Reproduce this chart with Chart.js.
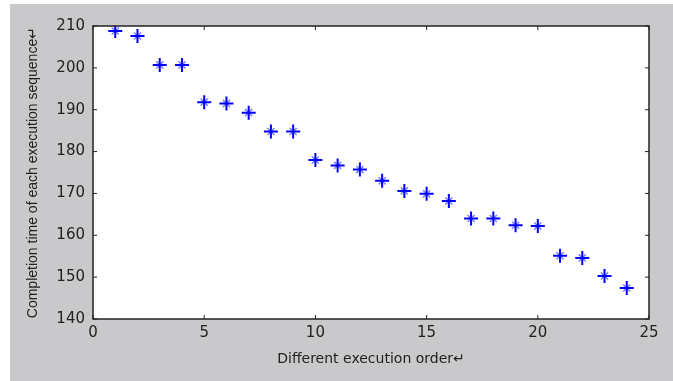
<!DOCTYPE html>
<html>
<head>
<meta charset="utf-8">
<script src="https://cdn.jsdelivr.net/npm/chart.js@4/dist/chart.umd.min.js"></script>
<style>
  html, body { margin: 0; padding: 0; background: #fff; }
  #wrap { width: 673px; height: 381px; }
</style>
</head>
<body>
<div id="wrap"><canvas id="myChart"></canvas></div>
<script>
// execution order on x, completion time on y
const order = [1, 2, 3, 4, 5, 6, 7, 8, 9, 10, 11, 12, 13, 14, 15, 16, 17, 18, 19, 20, 21, 22, 23, 24];
const completionTime = [208.8, 207.6, 200.7, 200.7, 191.8, 191.5, 189.3, 184.8, 184.8, 178.0, 176.7, 175.7,
  173.0, 170.6, 169.9, 168.2, 164.0, 164.0, 162.4, 162.2, 155.1, 154.6, 150.3, 147.4];
const xTicks = [0, 5, 10, 15, 20, 25];
const yTicks = [140, 150, 160, 170, 180, 190, 200, 210];

const points = order.map((x, i) => ({ x: x, y: completionTime[i] }));

// gray figure background + white axes box, matlab style
const frame = {
  id: "frame",
  beforeDraw(chart) {
    const c = chart.ctx;
    const a = chart.chartArea;
    c.save();
    c.fillStyle = "#c9c8cb";
    c.fillRect(10, 4, chart.width - 10, chart.height - 4);
    c.fillStyle = "#ffffff";
    c.fillRect(a.left, a.top, a.right - a.left, a.bottom - a.top);
    c.restore();
  },
  afterDatasetsDraw(chart) {
    const c = chart.ctx;
    const a = chart.chartArea;
    const xs = chart.scales.x, ys = chart.scales.y;
    const len = 4;
    c.save();
    c.strokeStyle = "#222";
    c.lineWidth = 1.5;
    c.strokeRect(a.left, a.top, a.right - a.left, a.bottom - a.top);
    c.lineWidth = 1;
    c.beginPath();
    xs.ticks.forEach(t => {
      const px = xs.getPixelForValue(t.value);
      c.moveTo(px, a.bottom); c.lineTo(px, a.bottom - len);
      c.moveTo(px, a.top); c.lineTo(px, a.top + len);
    });
    ys.ticks.forEach(t => {
      const py = ys.getPixelForValue(t.value);
      c.moveTo(a.left, py); c.lineTo(a.left + len, py);
      c.moveTo(a.right, py); c.lineTo(a.right - len, py);
    });
    c.stroke();
    c.restore();
  }
};

const tickFont = { family: "'DejaVu Sans', Verdana, sans-serif", size: 15 };

const ctx = document.getElementById("myChart");

new Chart(ctx, {
  type: "scatter",
  data: {
    datasets: [
      {
        // long plus arms of the asterisk
        data: points,
        pointStyle: "cross",
        pointRadius: 7,
        pointHoverRadius: 7,
        borderColor: "#0000ff",
        pointBorderWidth: 2,
      },
      {
        // short faint diagonals
        data: points,
        pointStyle: "crossRot",
        pointRadius: 5,
        pointHoverRadius: 5,
        borderColor: "rgba(40,40,255,0.6)",
        pointBorderWidth: 1.5,
      },
    ],
  },
  options: {
    responsive: true,
    maintainAspectRatio: false,
    animation: false,
    layout: { padding: { left: 0, top: 26, right: 24, bottom: 0 } },
    plugins: {
      legend: { display: false },
      tooltip: { enabled: false },
    },
    scales: {
      x: {
        type: "linear",
        min: 0,
        max: 25,
        afterBuildTicks: (s) => { s.ticks = xTicks.map(v => ({ value: v })); },
        afterFit: (s) => { s.height = 62; },
        grid: { display: false, drawTicks: false },
        border: { display: false },
        ticks: { color: "#222", padding: 5, font: tickFont },
        title: {
          display: true,
          text: "Different execution order\u21B5",
          color: "#222",
          padding: { top: 0, bottom: 13 },
          font: { family: "'DejaVu Sans', Verdana, sans-serif", size: 14 },
        },
      },
      y: {
        type: "linear",
        min: 140,
        max: 210,
        afterBuildTicks: (s) => { s.ticks = yTicks.map(v => ({ value: v })); },
        afterFit: (s) => { s.width = 93; },
        grid: { display: false, drawTicks: false },
        border: { display: false },
        ticks: { color: "#222", padding: 8, font: tickFont },
        title: {
          display: true,
          text: "Completion time of each execution sequence\u21B5",
          color: "#222",
          padding: { top: 25, bottom: 0 },
          font: { family: "'Liberation Sans Narrow', 'Liberation Sans', Arial, sans-serif", size: 14 },
        },
      },
    },
  },
  plugins: [frame],
});
</script>
</body>
</html>
